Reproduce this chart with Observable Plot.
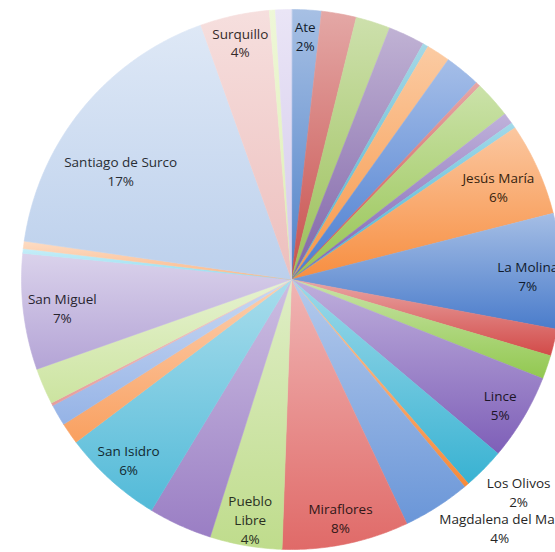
<!DOCTYPE html>
<html><head><meta charset="utf-8">
<script src="https://cdn.jsdelivr.net/npm/d3@7"></script>
<script src="https://cdn.jsdelivr.net/npm/@observablehq/plot@0.6"></script>
<style>body{margin:0;background:#fff}</style>
</head><body><div id="chart"></div>
<script>
const districts = ["Ate","Barranco","Bellavista","Breña","Callao","Carabayllo","Cercado de Lima","Chaclacayo","Chorrillos","Comas","Independencia","Jesús María","La Molina","La Perla","La Victoria","Lince","Los Olivos","Lurín","Magdalena del Mar","Miraflores","Pueblo Libre","San Borja","San Isidro","San Juan de Lurigancho","San Juan de Miraflores","San Luis","San Martín de Porres","San Miguel","Santa Anita","Santa Rosa","Santiago de Surco","Surquillo","Villa El Salvador","Villa María del Triunfo"];
const shares = [1.78,2.08,2.06,2.19,0.33,1.42,2.14,0.28,2.22,0.67,0.34,5.55,6.89,1.61,1.42,5.17,2.49,0.28,4.06,7.58,4.31,3.81,6.03,1.28,1.28,0.17,2.17,6.94,0.28,0.44,17.28,4.14,0.36,0.95];
const sliceColors = [
  "#4F81C8","#C8504D","#9BC059","#8064A8","#4BB0CC","#F79646",
  "#4A7DD0","#CC4C4A","#96C452","#7E62B4","#44B2D2","#F78E40",
  "#4A7CCB","#D24A48","#92C850","#7E5FB8","#38B2D2","#F78A3A",
  "#6A96D8","#E06A68","#BFDC8C","#9A7EC4","#52BAD8","#F9A060",
  "#95B3E6","#E69C9C","#CCE4A0","#B4A4D6","#8EDCF0","#FBB888",
  "#BCD0EC","#EDBFBD","#DDEEB0","#D4CAEC"];
const labeledDistricts = ["Ate","Jesús María","La Molina","Lince","Los Olivos","Magdalena del Mar","Miraflores","Pueblo Libre","San Isidro","San Miguel","Santiago de Surco","Surquillo"];
const outsideLabels = ["Los Olivos","Magdalena del Mar"];

// layout
const W = 555, H = 552, cx = 291, cy = 279, R = 270;
// [angle in degrees (null = slice middle), radius as a fraction of the pie radius]
const labelPlacement = {
  "Ate": [null, 0.905], "Jesús María": [null, 0.84], "La Molina": [89, 0.875], "San Miguel": [null, 0.855],
  "Santiago de Surco": [302.5, 0.75], "Los Olivos": [133, 1.15], "Magdalena del Mar": [140, 1.2]
};
const wrapName = {"Pueblo Libre": "Pueblo\nLibre"};
const gradientIds = sliceColors.map((c, i) => `slice-grad-${i}`);

const total = d3.sum(shares);
const arcs = d3.pie().sort(null).value(d => d)(shares);
const pts = [];
arcs.forEach((p, i) => {
  const name = districts[i];
  pts.push({name, x: 0, y: 0});
  const n = Math.max(2, Math.ceil((p.endAngle - p.startAngle) / (Math.PI / 360)));
  for (let k = 0; k <= n; k++) {
    const a = p.startAngle + (p.endAngle - p.startAngle) * k / n;
    pts.push({name, x: Math.sin(a), y: Math.cos(a)});
  }
});

const labels = arcs.map((p, i) => {
  const name = districts[i];
  if (!labeledDistricts.includes(name)) return null;
  const pct = shares[i] / total * 100;
  let a = (p.startAngle + p.endAngle) / 2, r = 0.9;
  const pl = labelPlacement[name];
  if (pl) { if (pl[0] != null) a = pl[0] * Math.PI / 180; r = pl[1]; }
  const ink = outsideLabels.includes(name) ? "#262626" : d3.interpolateRgb(sliceColors[i], "#000")(0.78);
  return {x: r * Math.sin(a), y: r * Math.cos(a), text: (wrapName[name] || name) + "\n" + Math.round(pct) + "%", ink};
}).filter(d => d);

const chart = Plot.plot({
  width: W, height: H, margin: 0,
  x: {domain: [-cx / R, (W - cx) / R], axis: null},
  y: {domain: [-(H - cy) / R, cy / R], axis: null},
  color: {domain: districts, range: gradientIds.map(id => `url(#${id})`)},
  style: {background: "#fff"},
  marks: [
    Plot.line(pts, {x: "x", y: "y", z: "name", fill: "name", stroke: "name", strokeWidth: 0.6, curve: "linear-closed"}),
    ...labels.map(l => Plot.text([l], {x: "x", y: "y", text: "text", fill: l.ink, fontSize: 13.5, lineHeight: 1.4, fontFamily: "Open Sans"}))
  ]
});
const defs = d3.select(chart).insert("defs", ":first-child");
sliceColors.forEach((c, i) => {
  const g = defs.append("linearGradient").attr("id", gradientIds[i]).attr("x1", 0).attr("y1", 0).attr("x2", 0).attr("y2", 1);
  g.append("stop").attr("offset", 0).attr("stop-color", d3.interpolateRgb(c, "#fff")(0.5));
  g.append("stop").attr("offset", 1).attr("stop-color", c);
});
document.getElementById("chart").appendChild(chart);
</script>
</body></html>
